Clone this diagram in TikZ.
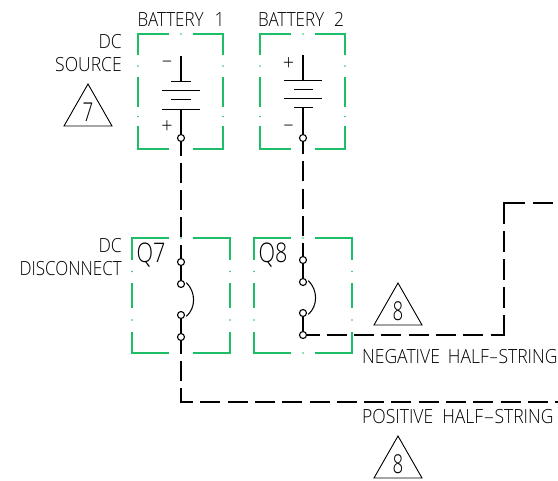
\documentclass[tikz,border=0pt]{standalone}
\usepackage{fontspec}
\setmainfont{Liberation Sans}
\newfontfamily\cadfont[FakeStretch=0.9]{Open Sans Light}
\newfontfamily\cadbig[FakeStretch=0.8]{Open Sans Light}
\newfontfamily\cadnum[FakeStretch=0.72]{Open Sans Light}
\definecolor{boxgreen}{RGB}{30,190,105}
\tikzset{
  x=1pt,y=-1pt,
  lbl/.style={inner sep=0pt,font=\cadfont\fontsize{19.5}{19.5}\selectfont,text=black},
  lblbig/.style={inner sep=0pt,font=\cadbig\fontsize{27}{27}\selectfont,text=black},
  lblnum/.style={inner sep=0pt,font=\cadnum\fontsize{26}{26}\selectfont,text=black},
  lblsign/.style={inner sep=0pt,font=\cadfont\fontsize{22}{22}\selectfont,text=black},
  term/.style={circle,draw=black,line width=1.1pt,inner sep=0pt,minimum size=7pt,fill=white},
  wire/.style={line width=2.1pt,dash pattern=on 20pt off 7.3pt},
  solidw/.style={line width=1.05pt,black},
  plate/.style={line width=1pt,black},
  gb/.style={boxgreen,line width=1.4pt},
  tri/.style={draw=black,line width=0.9pt},
}
\newcommand{\gbox}[9]{%
  \draw[gb] (#1,#6)--(#1,#2)--(#5-12,#2) (#5+12,#2)--(#3,#2)--(#3,#6);
  \draw[gb] (#1,#9)--(#1,#4)--(#5-12,#4) (#5+12,#4)--(#3,#4)--(#3,#9);
  \draw[gb] (#1,#7)--(#1,#8) (#3,#7)--(#3,#8);
  \fill[boxgreen] (#5,#2) circle (0.8) (#5,#4) circle (0.8);
  \pgfmathsetmacro{\dA}{(#6+#7)/2}
  \pgfmathsetmacro{\dB}{(#8+#9)/2}
  \fill[boxgreen] (#1,\dA) circle (0.8) (#3,\dA) circle (0.8) (#1,\dB) circle (0.8) (#3,\dB) circle (0.8);
}
\newcommand{\trisym}[4]{%
  \draw[tri] (#1,#2)--(#1-24,#2+42)--(#1+24,#2+42)--cycle;
  \node[lblnum] (#4) at (#1,#2+28) {#3};
}
\begin{document}
\begin{tikzpicture}
\useasboundingbox (0,0) rectangle (558,481);
% green boxes
\gbox{138}{34}{223}{149}{181}{55}{77}{107}{126}
\gbox{260}{34}{345}{149}{303}{55}{77}{107}{126}
\gbox{132}{238}{230}{353}{181}{260}{283}{308}{332}
\gbox{254}{238}{352}{353}{303}{260}{283}{308}{332}
% labels
\node[lbl,anchor=west] (lb1) at (137.5,19.5) {\scalebox{0.97}[1]{BATTERY}\hspace{11pt}1};
\node[lbl,anchor=west] (lb2) at (258,19.5) {\scalebox{0.97}[1]{BATTERY}\hspace{10pt}2};
\node[lbl,anchor=east] (ldc) at (122,42) {DC};
\node[lbl,anchor=east] (lsrc) at (122,65) {SOURCE};
\node[lbl,anchor=east] (ldc2) at (122,245.5) {DC};
\node[lbl,anchor=east] (ldis) at (122,269) {\scalebox{0.97}[1]{DISCONNECT}};
\node[lblbig,anchor=west] (lq7) at (136.5,255) {Q7};
\node[lblbig,anchor=west] (lq8) at (258.5,255) {Q8};
\node[lbl,anchor=west] (lneg) at (362,357) {NEGATIVE\hspace{8pt}HALF\scalebox{1.7}[1]{-}STRING};
\node[lbl,anchor=west] (lpos) at (362,417) {POSITIVE\hspace{9pt}HALF\scalebox{2}[1]{-}STRING};
\trisym{88}{84}{7}{t7}
\trisym{398}{283}{8}{t8a}
\trisym{398}{436}{8}{t8b}
% terminals
\node[term] (b1) at (181,138) {};
\node[term] (b2) at (303,138) {};
\node[term] (q7a) at (181,262) {};
\node[term] (q7b) at (181,284) {};
\node[term] (q7c) at (181,315) {};
\node[term] (q7d) at (181,337) {};
\node[term] (q8a) at (303,260) {};
\node[term] (q8b) at (303,282) {};
\node[term] (q8c) at (303,313) {};
\node[term] (q8d) at (303,335) {};
% battery 1
\coordinate (b1top) at (181,56);
\coordinate (b1p1) at (181,82);
\coordinate (b1p4) at (181,110);
\draw[solidw] (b1top)--(b1p1) (b1p4)--(b1);
\draw[plate] (171,82)--(191,82) (162,91)--(200,91) (171,100)--(191,100) (162,110)--(200,110);
\node[lblsign] (b1m) at (167,64) {\textendash};
\node[lblsign] (b1pl) at (167,127.5) {+};
% battery 2
\coordinate (b2top) at (303,55);
\coordinate (b2p1) at (303,81);
\coordinate (b2p4) at (303,108);
\draw[solidw] (b2top)--(b2p1) (b2p4)--(b2);
\draw[plate] (284,81)--(322,81) (294,90)--(313,90) (284,99)--(322,99) (294,108)--(313,108);
\node[lblsign] (b2pl) at (288.5,64.5) {+};
\node[lblsign] (b2m) at (288.5,128.5) {\textendash};
% switches
\draw[solidw] (q7a)--(q7b) (q7c)--(q7d) (q8a)--(q8b) (q8c)--(q8d);
\draw[solidw] ([xshift=1.5pt]q7b.20) .. controls (196,292) and (196,308) .. ([xshift=1.5pt]q7c.-20);
\draw[solidw] ([xshift=1.5pt]q8b.20) .. controls (318,290) and (318,306) .. ([xshift=1.5pt]q8c.-20);
% wires
\coordinate (ne0) at (505,335);
\coordinate (ne1) at (504,336);
\coordinate (ne2) at (504,203);
\coordinate (ne2b) at (503,203);
\coordinate (ne3) at (558,203);
\coordinate (po0) at (181,403);
\coordinate (po1) at (180,402);
\coordinate (po2) at (558,402);
\draw[wire,dash phase=6.5pt] (b1)--(q7a);
\draw[wire,dash phase=8pt] (b2)--(q8a);
\draw[wire,dash phase=7.5pt] (q8d)--(ne0);
\draw[wire,dash pattern=on 20.5pt off 7.5pt] (ne1)--(ne2);
\draw[wire,dash pattern=on 22pt off 8pt on 20pt off 8pt] (ne2b)--(ne3);
\draw[wire,dash phase=7.5pt] (q7d)--(po0);
\draw[wire,dash phase=7pt] (po1)--(po2);
\end{tikzpicture}
\end{document}
